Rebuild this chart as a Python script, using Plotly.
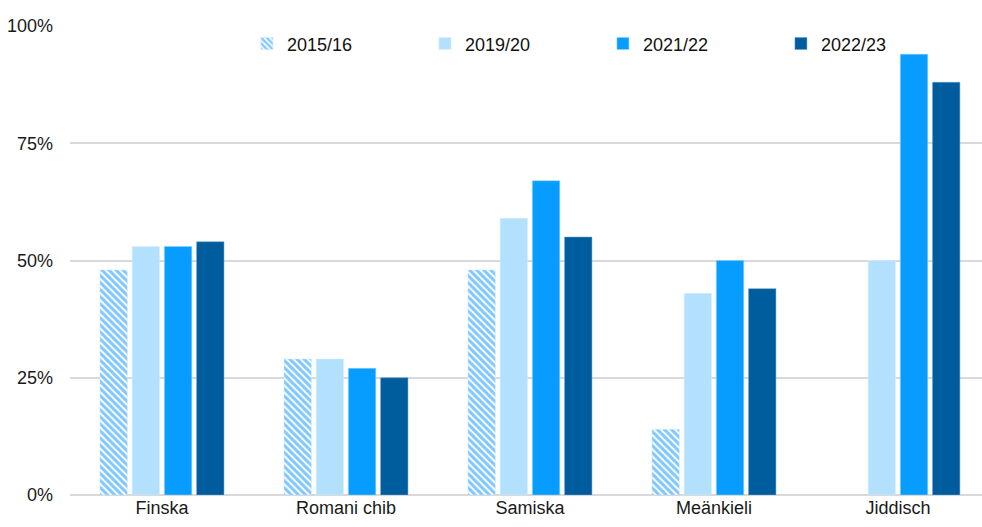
import plotly.graph_objects as go

categories = ["Finska", "Romani chib", "Samiska", "Meänkieli", "Jiddisch"]
series_names = ["2015/16", "2019/20", "2021/22", "2022/23"]
v2015 = [0.48, 0.29, 0.48, 0.14, None]
v2019 = [0.53, 0.29, 0.59, 0.43, 0.50]
v2021 = [0.53, 0.27, 0.67, 0.50, 0.94]
v2022 = [0.54, 0.25, 0.55, 0.44, 0.88]
y_ticks = [0, 0.25, 0.5, 0.75, 1.0]
y_tick_labels = ["0%", "25%", "50%", "75%", "100%"]

fig = go.Figure()
fig.add_trace(go.Bar(
    x=categories, y=v2015, name=series_names[0],
    marker=dict(color="white", line=dict(color="#cfeaff", width=0.5),
                pattern=dict(shape="\\", fgcolor="#0090ff", bgcolor="white",
                             size=5, solidity=0.6)),
))
fig.add_trace(go.Bar(x=categories, y=v2019, name=series_names[1],
                     marker=dict(color="#b3e1fd", line=dict(color="#d6efff", width=0.5))))
fig.add_trace(go.Bar(x=categories, y=v2021, name=series_names[2],
                     marker=dict(color="#069dff", line=dict(color="#8fd0ff", width=0.5))))
fig.add_trace(go.Bar(x=categories, y=v2022, name=series_names[3],
                     marker=dict(color="#005d9d", line=dict(color="#6a9fc6", width=0.5))))

fig.update_layout(
    width=982, height=527,
    margin=dict(l=70, r=0, t=26, b=32),
    paper_bgcolor="white", plot_bgcolor="white",
    barmode="group", bargap=0.30, bargroupgap=0.15,
    font=dict(family="Liberation Sans, Arial, sans-serif", size=18, color="#1a1a1a"),
    showlegend=True,
    legend=dict(orientation="h", x=0.194, y=0.962, xanchor="left", yanchor="middle",
                entrywidth=133, entrywidthmode="pixels",
                font=dict(size=18, color="#111111"), bgcolor="rgba(0,0,0,0)",
                itemwidth=30, traceorder="normal"),
    xaxis=dict(range=[-0.5, 4.457], showgrid=False, showline=False, ticks="",
               tickfont=dict(size=18)),
    yaxis=dict(range=[0, 1.0], tickvals=y_ticks, ticktext=y_tick_labels,
               showgrid=True, gridcolor="#d9d9d9", gridwidth=2,
               zeroline=True, zerolinecolor="#d9d9d9", zerolinewidth=2,
               showline=False, ticks="", ticklabelstandoff=16, tickfont=dict(size=18)),
)

fig.write_html("out.html", config={"displayModeBar": False},
               post_script="document.body.style.margin='0';document.body.style.overflow='hidden';")
